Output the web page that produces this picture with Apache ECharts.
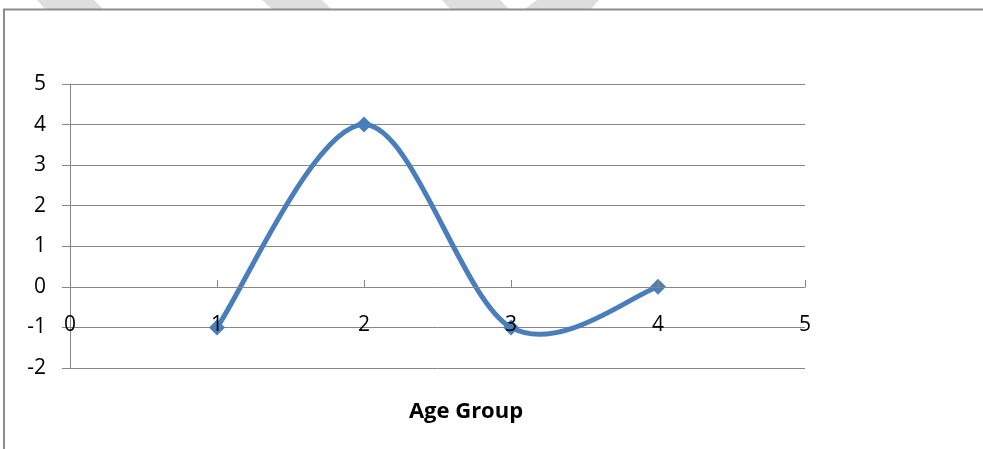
<!DOCTYPE html>
<html>
<head>
<meta charset="utf-8">
<script src="https://cdn.jsdelivr.net/npm/echarts@6/dist/echarts.min.js"></script>
<style>
  html, body { margin: 0; padding: 0; background: #fff; }
  #chart { width: 983px; height: 449px; }
</style>
</head>
<body>
<div id="chart"></div>
<script>
// Age group positions and their values
const ageGroups = [1, 2, 3, 4];
const values = [-1, 4, -1, 0];
const xTicks = [0, 1, 2, 3, 4, 5];
const yTicks = [-2, -1, 0, 1, 2, 3, 4, 5];
const xTitle = 'Age Group';

const FONT = '"Open Sans", "Liberation Sans", sans-serif';
const GRID_COLOR = '#868686';
const LINE_COLOR = '#4a7ebb';

const points = ageGroups.map((x, i) => [x, values[i]]);

const chart = echarts.init(document.getElementById('chart'), null, { renderer: 'canvas' });

// Light banner shapes along the top edge
const bannerShapes = [
  [[37, 0], [94, 0], [103, 9], [45, 9]],
  [[262, 0], [322, 0], [331, 9], [272, 9]],
  [[442, 0], [500, 0], [509, 9], [450, 9]],
  [[537, 0], [599, 0], [591, 9], [525, 9]]
].map(pts => ({
  type: 'polygon',
  shape: { points: pts },
  style: { fill: '#dedede' },
  silent: true
}));

// One Catmull-Rom style Bezier segment from point i to point i + 1,
// in pixel space via the axes.
function renderSegment(params, api) {
  const i = params.dataIndex;
  const n = points.length;
  const px = points.map(p => api.coord(p));
  const p0 = px[Math.max(i - 1, 0)];
  const p1 = px[i];
  const p2 = px[i + 1];
  const p3 = px[Math.min(i + 2, n - 1)];
  const cp1 = [p1[0] + (p2[0] - p0[0]) / 6, p1[1] + (p2[1] - p0[1]) / 6];
  const cp2 = [p2[0] - (p3[0] - p1[0]) / 6, p2[1] - (p3[1] - p1[1]) / 6];
  return {
    type: 'bezierCurve',
    shape: {
      x1: p1[0], y1: p1[1], x2: p2[0], y2: p2[1],
      cpx1: cp1[0], cpy1: cp1[1], cpx2: cp2[0], cpy2: cp2[1]
    },
    style: { stroke: LINE_COLOR, lineWidth: 5, fill: null, lineCap: 'round' }
  };
}

chart.setOption({
  animation: false,
  backgroundColor: '#ffffff',
  grid: { left: 70, right: 178, top: 84, bottom: 81, containLabel: false },
  xAxis: {
    type: 'value',
    min: xTicks[0],
    max: xTicks[xTicks.length - 1],
    interval: 1,
    position: 'bottom',
    offset: -81,
    z: 10,
    axisLine: { show: true, onZero: false, lineStyle: { color: GRID_COLOR, width: 1 } },
    axisTick: { show: true, inside: true, length: 7, lineStyle: { color: GRID_COLOR } },
    splitLine: { show: false },
    axisLabel: { color: '#000', fontSize: 21, fontFamily: FONT, margin: 28 }
  },
  yAxis: {
    type: 'value',
    min: yTicks[0],
    max: yTicks[yTicks.length - 1],
    interval: 1,
    axisLine: { show: true, lineStyle: { color: GRID_COLOR, width: 1 } },
    axisTick: { show: true, inside: false, length: 8, lineStyle: { color: GRID_COLOR } },
    splitLine: { show: true, lineStyle: { color: GRID_COLOR, width: 1 } },
    axisLabel: { color: '#000', fontSize: 21, fontFamily: FONT, margin: 24 }
  },
  series: [
    {
      type: 'custom',
      data: points.slice(0, -1),
      encode: { x: 0, y: 1 },
      renderItem: renderSegment,
      z: 4
    },
    {
      type: 'scatter',
      data: points,
      symbol: 'diamond',
      symbolSize: 16,
      itemStyle: { color: LINE_COLOR, opacity: 1 },
      z: 5
    }
  ],
  graphic: [
    ...bannerShapes,
    {
      type: 'rect',
      shape: { x: 4, y: 9.5, width: 1000, height: 500 },
      style: { fill: 'none', stroke: '#8c8c8c', lineWidth: 2 },
      silent: true
    },
    {
      type: 'text',
      x: 466,
      y: 412,
      style: {
        text: xTitle, fill: '#000', font: 'bold 22px ' + FONT,
        align: 'center', verticalAlign: 'middle'
      }
    }
  ]
});
</script>
</body>
</html>
